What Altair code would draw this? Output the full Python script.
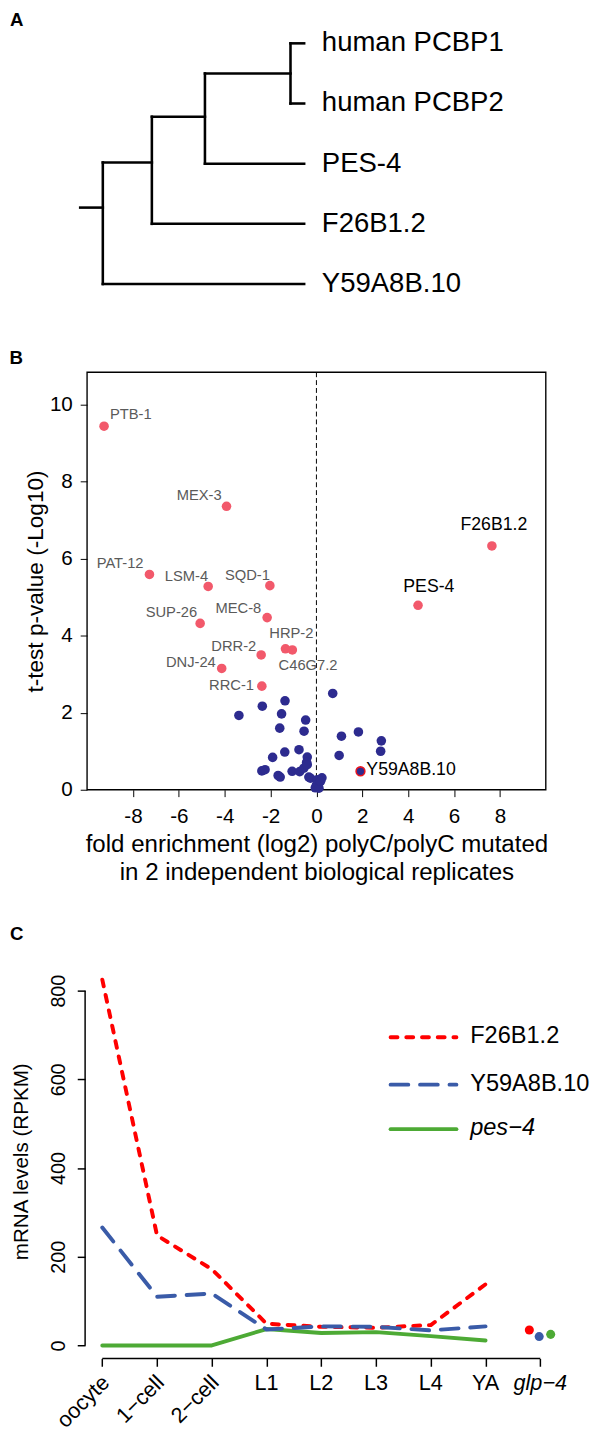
import altair as alt
import pandas as pd

FONT = "Liberation Sans"
RED_PT = "#F2596B"
NAVY = "#2D2B8F"
GREY = "#5a5a5a"

# ---------------- Panel A: tree ----------------
leaf_names = ["human PCBP1", "human PCBP2", "PES-4", "F26B1.2", "Y59A8B.10"]
leaf_rank = [1, 2, 3, 4, 5]
leaf_depth = [1.0, 1.0, 1.0, 1.0, 1.0]
node_ids = ["n4", "n3", "n2", "n1"]
node_depth = [0.939, 0.557, 0.320, 0.101]
node_rank = [1.5, 2.22, 2.98, 3.73]
node_kids = [["human PCBP1", "human PCBP2"], ["n4", "PES-4"], ["n3", "F26B1.2"], ["n2", "Y59A8B.10"]]
root_depth = 0.0

# ---------------- Panel B: volcano ----------------
lab_names = ["PTB-1", "MEX-3", "PAT-12", "LSM-4", "SQD-1", "SUP-26", "MEC-8", "HRP-2",
             "C46G7.2", "DRR-2", "DNJ-24", "RRC-1", "F26B1.2", "PES-4", "Y59A8B.10"]
lab_fold = [-9.26, -3.92, -7.28, -4.72, -2.03, -5.07, -2.15, -1.35,
            -1.05, -2.41, -4.13, -2.38, 7.65, 4.43, 1.92]
lab_p = [9.44, 7.36, 5.59, 5.28, 5.30, 4.32, 4.47, 3.66,
         3.63, 3.50, 3.15, 2.69, 6.33, 4.79, 0.48]
lab_class = ["sig"] * 14 + ["special"]

other_fold = [0.71, -1.37, -2.36, -3.38, -1.52, -0.47, -1.60, -0.54, 1.09, 1.83,
              2.83, 2.80, 0.99, -1.91, -1.38, -0.76, -0.40, -0.43, -2.38, -2.24,
              -1.67, -1.58, -1.06, -0.73, -0.55, -0.40, -0.33, -0.26, 0.04, 0.24,
              0.09, 0.00, -0.05, 0.11, 0.18]
other_p = [2.50, 2.31, 2.17, 1.93, 1.97, 1.81, 1.60, 1.52, 1.39, 1.50,
           1.27, 1.00, 0.89, 0.84, 0.98, 1.04, 0.85, 0.71, 0.49, 0.52,
           0.37, 0.33, 0.48, 0.47, 0.56, 0.65, 0.33, 0.30, 0.26, 0.31,
           0.17, 0.12, 0.05, 0.04, 0.22]

# ---------------- Panel C: expression ----------------
stages = ["oocyte", "1\u2212cell", "2\u2212cell", "L1", "L2", "L3", "L4", "YA", "glp\u22124"]
series = ["F26B1.2", "Y59A8B.10", "pes\u22124"]
f26_rpkm = [825, 248, 172, 49, 42, 40, 46, 138]
y59_rpkm = [266, 110, 117, 36, 43, 42, 34, 43]
pes4_rpkm = [0, 0, 0, 37, 28, 30, 21, 11]
glp4_rpkm = [35, 20, 25]

# ---------------- styles / layout ----------------
series_color = {"F26B1.2": "#FF0000", "Y59A8B.10": "#3A5BA8", "pes\u22124": "#4DAA35"}
series_dash = {"F26B1.2": [7, 9], "Y59A8B.10": [18, 12], "pes\u22124": None}
glp_dodge = {"F26B1.2": -0.2, "Y59A8B.10": -0.02, "pes\u22124": 0.19}

WA, HA = 479, 301.2
WB, HB = 467, 425
WC, HC = 479, 401.4
SPACING = 41.5

one = pd.DataFrame({"a": [0]})


def letter(t, x, y):
    return alt.Chart(pd.DataFrame({"t": [t]})).mark_text(
        font=FONT, fontSize=19, fontWeight="bold", align="center", baseline="middle", color="black"
    ).encode(x=alt.value(x), y=alt.value(y), text="t:N")


# ===== Panel A =====
pos = {n: (d, r) for n, d, r in zip(leaf_names, leaf_depth, leaf_rank)}
pos.update({n: (d, r) for n, d, r in zip(node_ids, node_depth, node_rank)})
segs = []
for n, kids in zip(node_ids, node_kids):
    d, r = pos[n]
    rs = [pos[k][1] for k in kids]
    segs.append(dict(x=d, x2=d, y=min(rs), y2=max(rs)))
    for k in kids:
        kd, kr = pos[k]
        segs.append(dict(x=d, x2=kd, y=kr, y2=kr))
segs.append(dict(x=root_depth, x2=pos[node_ids[-1]][0], y=pos[node_ids[-1]][1], y2=pos[node_ids[-1]][1]))
seg_df = pd.DataFrame(segs)
leaf_df = pd.DataFrame({"x": leaf_depth, "y": leaf_rank, "name": leaf_names})

px_unit = 228.0
y0A = 0.5 - 2 / 61.25
ax = alt.X("x:Q", scale=alt.Scale(domain=[7 / px_unit, (7 + WA) / px_unit], nice=False, zero=False), axis=None)
ay = alt.Y("y:Q", scale=alt.Scale(domain=[y0A, y0A + HA / 61.25], nice=False, zero=False, reverse=True), axis=None)

treeA = alt.Chart(seg_df).mark_rule(color="black", strokeWidth=2.6, strokeCap="square").encode(
    x=ax, x2="x2:Q", y=ay, y2="y2:Q")
textA = alt.Chart(leaf_df).mark_text(font=FONT, fontSize=28, align="left", baseline="middle", dx=18,
                                     color="black").encode(x=ax, y=ay, text="name:N")
panelA = alt.layer(treeA, textA, letter("A", -71.5, 9.2)).properties(width=WA, height=HA)

# ===== Panel B =====
bx = alt.X("x:Q", scale=alt.Scale(domain=[-10, 10], nice=False, zero=False),
           axis=alt.Axis(values=list(range(-8, 9, 2)),
                         labelExpr="datum.value < 0 ? '-' + abs(datum.value) : '' + datum.value",
                         domain=False, grid=False, tickSize=7, tickColor="black", tickWidth=1,
                         labelFont=FONT, labelFontSize=21, labelColor="black", labelPadding=9,
                         title=["fold enrichment (log2) polyC/polyC mutated",
                                "in 2 independent biological replicates"],
                         titleFont=FONT, titleFontSize=24.5, titleFontWeight="normal", titleColor="black",
                         titlePadding=7, titleLineHeight=28))
by = alt.Y("y:Q", scale=alt.Scale(domain=[0, 10.84], nice=False, zero=False),
           axis=alt.Axis(values=[0, 2, 4, 6, 8, 10], domain=False, grid=False, tickSize=7,
                         tickColor="black", tickWidth=1, labelFont=FONT, labelFontSize=21,
                         labelColor="black", labelPadding=8, title="t-test p-value (-Log10)",
                         titleFont=FONT, titleFontSize=23, titleFontWeight="normal",
                         titleColor="black", titlePadding=2))

ns_df = pd.DataFrame({"x": other_fold, "y": other_p})
lab_df = pd.DataFrame({"x": lab_fold, "y": lab_p, "name": lab_names, "cls": lab_class})

frameB = alt.Chart(one).mark_rect(fillOpacity=0, stroke="black", strokeWidth=1.4).encode(
    x=alt.value(0), x2=alt.value(WB), y=alt.value(0), y2=alt.value(HB))
zeroB = alt.Chart(pd.DataFrame({"x": [0.0]})).mark_rule(
    color="black", strokeWidth=1, strokeDash=[5, 3]).encode(x=bx)
blueB = alt.Chart(ns_df).mark_circle(size=95, color=NAVY, opacity=1).encode(x=bx, y=by)
redB = alt.Chart(lab_df).transform_filter("datum.cls == 'sig'").mark_circle(
    size=95, color=RED_PT, opacity=1).encode(x=bx, y=by)
specB = alt.Chart(lab_df).transform_filter("datum.cls == 'special'").mark_point(
    shape="circle", filled=True, size=80, fill=NAVY, stroke="#E8141E", strokeWidth=1.6,
    opacity=1).encode(x=bx, y=by)

label_style = {
    "PTB-1": ("left", 6, -12, GREY, 15),
    "MEX-3": ("right", -5, -11, GREY, 15),
    "PAT-12": ("right", -6, -12, GREY, 15),
    "LSM-4": ("right", 0, -11, GREY, 15),
    "SQD-1": ("right", 0, -11, GREY, 15),
    "SUP-26": ("right", -3, -11, GREY, 15),
    "MEC-8": ("right", -6, -10, GREY, 15),
    "HRP-2": ("center", 6, -16, GREY, 15),
    "C46G7.2": ("center", 16, 15, GREY, 15),
    "DRR-2": ("right", -5, -9, GREY, 15),
    "DNJ-24": ("right", -6, -6, GREY, 15),
    "RRC-1": ("right", -8, -1, GREY, 15),
    "F26B1.2": ("center", 2, -21, "black", 18),
    "PES-4": ("center", 11, -19, "black", 18),
    "Y59A8B.10": ("left", 6, -1, "black", 18),
}
labB = []
for nm in lab_names:
    al, dx, dy, col, fs = label_style[nm]
    labB.append(alt.Chart(lab_df).transform_filter(alt.datum.name == nm).mark_text(
        font=FONT, fontSize=fs, align=al, baseline="middle", dx=dx, dy=dy, color=col
    ).encode(x=bx, y=by, text="name:N"))

panelB = alt.layer(frameB, zeroB, blueB, redB, specB, *labB, letter("B", -72, -14.5)).properties(
    width=WB, height=HB)

# ===== Panel C =====
cx = alt.X("i:Q", scale=alt.Scale(domain=[-0.278, 8.316], nice=False, zero=False),
           axis=alt.Axis(values=list(range(9)), labels=False, domain=False, grid=False,
                         tickSize=8, tickWidth=1.5, tickColor="black", title=None))
cy = alt.Y("v:Q", scale=alt.Scale(domain=[-29.2, 860], nice=False, zero=False),
           axis=alt.Axis(values=[0, 200, 400, 600, 800], domain=False, grid=False, offset=2,
                         tickSize=8, tickWidth=1.5, tickColor="black", labelAngle=270,
                         labelAlign="center", labelBaseline="bottom", labelFont=FONT,
                         labelFontSize=20, labelPadding=9, labelColor="black",
                         title="mRNA levels (RPKM)", titleFont=FONT, titleFontSize=21,
                         titleFontWeight="normal", titleColor="black", titlePadding=18))

vals = {"F26B1.2": f26_rpkm, "Y59A8B.10": y59_rpkm, "pes\u22124": pes4_rpkm}
lineC = []
for s in ["pes\u22124", "F26B1.2", "Y59A8B.10"]:
    d = pd.DataFrame({"i": list(range(len(vals[s]))), "v": vals[s]})
    kw = dict(color=series_color[s], strokeWidth=4, strokeCap="round", strokeJoin="round")
    if series_dash[s] is not None:
        kw["strokeDash"] = series_dash[s]
    lineC.append(alt.Chart(d).mark_line(**kw).encode(x=cx, y=cy))

glp_df = pd.DataFrame({"series": series,
                       "i": [len(stages) - 1 + glp_dodge[s] for s in series],
                       "v": glp4_rpkm})
glpC = alt.Chart(glp_df).mark_circle(size=85, opacity=1).encode(
    x=cx, y=cy,
    color=alt.Color("series:N", scale=alt.Scale(domain=series, range=[series_color[s] for s in series]),
                    legend=None))

yruleC = alt.Chart(pd.DataFrame({"v": [0], "v2": [800]})).mark_rule(
    color="black", strokeWidth=1.5).encode(x=alt.value(-2), y=cy, y2="v2:Q")
xruleC = alt.Chart(pd.DataFrame({"i": [0], "i2": [len(stages) - 1]})).mark_rule(
    color="black", strokeWidth=1.5).encode(x=cx, x2="i2:Q", y=alt.value(HC))

stage_df = pd.DataFrame({"i": list(range(len(stages))), "label": stages})
rotC = alt.Chart(stage_df).transform_filter("datum.i <= 2").mark_text(
    font=FONT, fontSize=22, angle=315, align="right", baseline="alphabetic", dx=6, dy=6,
    color="black").encode(x=cx, y=alt.value(HC + 26), text="label:N")
horC = alt.Chart(stage_df).transform_filter("datum.i >= 3 && datum.i <= 7").mark_text(
    font=FONT, fontSize=22, align="center", baseline="alphabetic", color="black").encode(
    x=cx, y=alt.value(HC + 32.3), text="label:N")
glpLab = alt.Chart(stage_df).transform_filter("datum.i == 8").mark_text(
    font=FONT, fontSize=22, fontStyle="italic", align="center", baseline="alphabetic",
    color="black").encode(x=cx, y=alt.value(HC + 32.3), text="label:N")

leg_y = [74.4, 122.7, 168.0]
legC = []
for s, yy in zip(series, leg_y):
    kw = dict(color=series_color[s], strokeWidth=4, strokeCap="round")
    if series_dash[s] is not None:
        kw["strokeDash"] = series_dash[s]
    legC.append(alt.Chart(one).mark_rule(**kw).encode(
        x=alt.value(309), x2=alt.value(376), y=alt.value(yy)))
    tkw = dict(font=FONT, fontSize=24, align="left", baseline="middle", color="black")
    if s.startswith("pes"):
        tkw["fontStyle"] = "italic"
    legC.append(alt.Chart(pd.DataFrame({"t": [s]})).mark_text(**tkw).encode(
        x=alt.value(390), y=alt.value(yy - 1), text="t:N"))

panelC = alt.layer(yruleC, xruleC, *lineC, glpC, rotC, horC, glpLab, *legC,
                   letter("C", -71.5, -30.8)).properties(width=WC, height=HC)

chart = alt.vconcat(panelA, panelB, panelC, spacing=SPACING).properties(
    padding={"left": 1.5, "top": -9.6, "right": 0, "bottom": 0}
).configure(font=FONT).configure_view(strokeWidth=0, stroke="transparent")

chart.save("out.html", embed_options={"renderer": "svg", "actions": False})
